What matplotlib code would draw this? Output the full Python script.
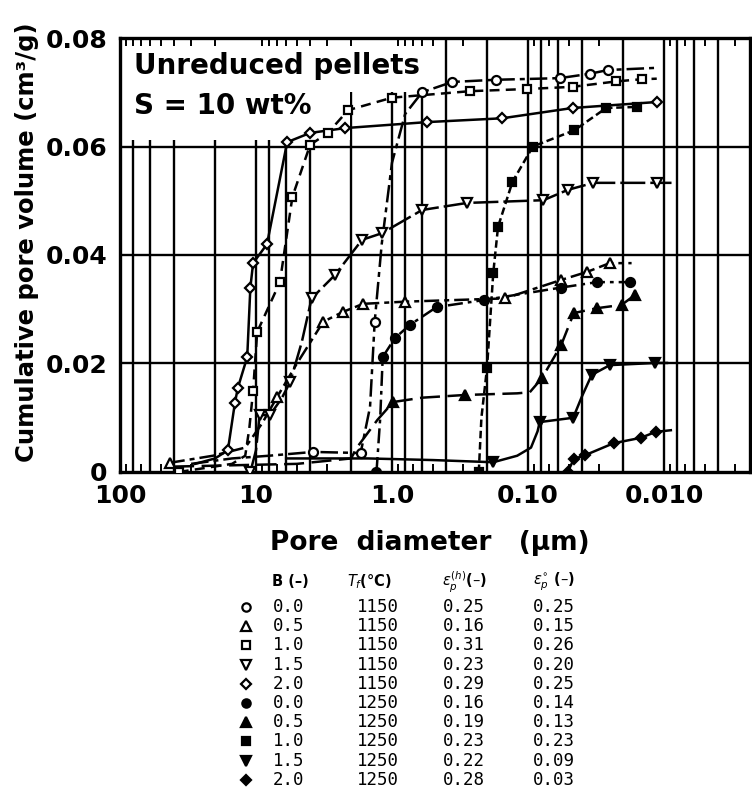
import numpy as np
import matplotlib
matplotlib.use('Agg')
import matplotlib.pyplot as plt
from matplotlib.ticker import LogLocator, NullFormatter
from matplotlib.patches import Rectangle
from matplotlib.lines import Line2D

# ---------------- data (pore diameter in um, cumulative volume cm3/g) ----------------
# T = 1150 C (open symbols)
d_c0 = [30, 15, 8, 3.8, 1.7, 1.45, 1.34, 1.19, 1.0, 0.8, 0.6, 0.36, 0.173, 0.0585, 0.0352, 0.0258, 0.0113]
v_c0 = [0.0015, 0.0025, 0.003, 0.0037, 0.0035, 0.012, 0.0277, 0.042, 0.057, 0.066, 0.070, 0.0719, 0.0723, 0.0726, 0.0734, 0.0741, 0.0745]
m_c0 = [3, 4, 6, 10, 11, 12, 13, 14, 15]

d_t0 = [43, 20.7, 12, 9.0, 7.0, 5.0, 3.2, 2.3, 1.63, 0.8, 0.148, 0.057, 0.0366, 0.0251, 0.0173]
v_t0 = [0.0017, 0.003, 0.0045, 0.009, 0.0138, 0.02, 0.0277, 0.0295, 0.031, 0.0314, 0.032, 0.0354, 0.0369, 0.0385, 0.0385]
m_t0 = [0, 4, 6, 7, 8, 9, 10, 11, 12, 13]

d_s0 = [37, 15, 12, 11.2, 10.5, 9.8, 6.67, 5.4, 4.0, 2.96, 2.1, 1.0, 0.266, 0.101, 0.047, 0.0224, 0.0146, 0.0113]
v_s0 = [0.0, 0.0015, 0.003, 0.008, 0.015, 0.0258, 0.035, 0.0507, 0.0603, 0.0625, 0.0667, 0.069, 0.0702, 0.0706, 0.071, 0.072, 0.0724, 0.0725]
m_s0 = [0, 4, 5, 6, 7, 8, 9, 10, 11, 12, 13, 14, 15, 16]

d_d0 = [11, 10, 9.4, 7.9, 6.5, 5.6, 4.6, 3.9, 2.63, 1.66, 1.19, 0.6, 0.28, 0.077, 0.051, 0.033, 0.0113, 0.0088]
v_d0 = [0.0, 0.004, 0.0105, 0.0105, 0.0135, 0.0166, 0.024, 0.032, 0.0363, 0.0428, 0.044, 0.0483, 0.0496, 0.0501, 0.052, 0.0533, 0.0533, 0.0533]
m_d0 = [0, 2, 3, 5, 7, 8, 9, 10, 11, 12, 13, 14, 15, 16]

d_r0 = [28, 20, 16.1, 14.3, 13.6, 11.6, 11.0, 10.5, 8.3, 5.9, 4.0, 2.2, 0.55, 0.155, 0.047, 0.0113]
v_r0 = [0.0015, 0.0025, 0.004, 0.0127, 0.0155, 0.0212, 0.034, 0.0385, 0.042, 0.0608, 0.0625, 0.0634, 0.0645, 0.0652, 0.0671, 0.0682]
m_r0 = [2, 3, 4, 5, 6, 7, 8, 9, 10, 11, 12, 13, 14, 15]

# T = 1250 C (filled symbols)
d_c1 = [1.3, 1.22, 1.17, 0.95, 0.74, 0.47, 0.21, 0.057, 0.031, 0.0178, 0.016]
v_c1 = [0.0, 0.01, 0.0212, 0.0247, 0.0271, 0.0304, 0.0317, 0.034, 0.035, 0.035, 0.0352]
m_c1 = [0, 2, 3, 4, 5, 6, 7, 8, 9]

d_t1 = [40, 5, 2.0, 1.8, 1.28, 0.98, 0.6, 0.29, 0.12, 0.097, 0.079, 0.057, 0.046, 0.031, 0.0205, 0.0164, 0.015]
v_t1 = [0.001, 0.0015, 0.0025, 0.0046, 0.0096, 0.0129, 0.0137, 0.0142, 0.0145, 0.0147, 0.0173, 0.0234, 0.0293, 0.0302, 0.0308, 0.0326, 0.0328]
m_t1 = [5, 7, 10, 11, 12, 13, 14, 15]

d_s1 = [0.23, 0.22, 0.2, 0.18, 0.166, 0.13, 0.092, 0.0455, 0.0266, 0.0157]
v_s1 = [0.0, 0.01, 0.0192, 0.0367, 0.0452, 0.0535, 0.060, 0.063, 0.0671, 0.0673]
m_s1 = [0, 2, 3, 4, 5, 6, 7, 8, 9]

d_d1 = [6, 1.5, 0.5, 0.18, 0.12, 0.095, 0.085, 0.082, 0.0465, 0.04, 0.034, 0.025, 0.0116, 0.0095]
v_d1 = [0.0025, 0.0025, 0.0022, 0.0018, 0.003, 0.0045, 0.0075, 0.0092, 0.010, 0.014, 0.0179, 0.0197, 0.0201, 0.0201]
m_d1 = [3, 7, 8, 10, 11, 12]

d_r1 = [0.051, 0.046, 0.038, 0.0235, 0.0148, 0.0115, 0.0089]
v_r1 = [0.0, 0.0024, 0.0031, 0.0053, 0.0063, 0.0074, 0.0077]
m_r1 = [0, 1, 2, 3, 4, 5]

# table values
B_vals = ['0.0', '0.5', '1.0', '1.5', '2.0', '0.0', '0.5', '1.0', '1.5', '2.0']
Tf_vals = ['1150'] * 5 + ['1250'] * 5
eps_h = ['0.25', '0.16', '0.31', '0.23', '0.29', '0.16', '0.19', '0.23', '0.22', '0.28']
eps_0 = ['0.25', '0.15', '0.26', '0.20', '0.25', '0.14', '0.13', '0.23', '0.09', '0.03']

x_ticks = [100, 10, 1.0, 0.1, 0.01]
x_ticklabels = ['100', '10', '1.0', '0.10', '0.010']
y_ticks = [0, 0.02, 0.04, 0.06, 0.08]
y_ticklabels = ['0', '0.02', '0.04', '0.06', '0.08']

# ---------------- styles ----------------
series = [
    (d_c0, v_c0, m_c0, 'o', False, (0, (7, 2, 2, 2))),
    (d_t0, v_t0, m_t0, '^', False, (0, (6, 2, 2, 2))),
    (d_s0, v_s0, m_s0, 's', False, (0, (4, 2.5))),
    (d_d0, v_d0, m_d0, 'v', False, (0, (10, 2))),
    (d_r0, v_r0, m_r0, 'D', False, '-'),
    (d_c1, v_c1, m_c1, 'o', True, (0, (6, 2, 1.5, 2))),
    (d_t1, v_t1, m_t1, '^', True, (0, (8, 3))),
    (d_s1, v_s1, m_s1, 's', True, (0, (3, 1.5))),
    (d_d1, v_d1, m_d1, 'v', True, '-'),
    (d_r1, v_r1, m_r1, 'D', True, '-'),
]
msize = {'o': 6.5, '^': 7, 's': 6, 'v': 7, 'D': 5.5}

W, H = 752, 792
fig = plt.figure(figsize=(W / 100, H / 100), dpi=100)
fig.patch.set_facecolor('white')


def fx(px):
    return px / W


def fy(py):
    return 1 - py / H


ax = fig.add_axes([fx(120), fy(472), fx(750) - fx(120), fy(38) - fy(472)])
ax.set_xscale('log')
ax.set_xlim(100, 0.00233)
ax.set_ylim(0, 0.08)
ax.set_axisbelow(False)

# grid (semi-log paper style: 1, 2, 4, 6, 8 of each decade)
for e in range(-3, 2):
    for m in [1, 2, 4, 6, 8]:
        xv = m * 10.0 ** e
        if 0.00233 < xv < 100:
            ax.axvline(xv, color='black', lw=1.7, zorder=1)
for yv in [0.02, 0.04, 0.06]:
    ax.axhline(yv, color='black', lw=1.7, zorder=1)

# white area behind the title text
ax.add_patch(Rectangle((fx(121), fy(140)), fx(350) - fx(121), fy(39) - fy(140),
                       transform=fig.transFigure, facecolor='white', edgecolor='none', zorder=1.2))
ax.add_patch(Rectangle((fx(350), fy(92)), fx(440) - fx(350), fy(39) - fy(92),
                       transform=fig.transFigure, facecolor='white', edgecolor='none', zorder=1.2))

for d, v, mk, marker, filled, ls in series:
    ax.plot(d, v, color='black', lw=1.8, ls=ls, zorder=3)
    ax.plot(np.array(d)[mk], np.array(v)[mk], ls='none', marker=marker,
            markersize=msize[marker], markeredgewidth=1.6, markeredgecolor='black',
            markerfacecolor='black' if filled else 'white', zorder=4)

ax.set_xticks(x_ticks)
ax.set_xticklabels(x_ticklabels)
ax.set_yticks(y_ticks)
ax.set_yticklabels(y_ticklabels)
ax.xaxis.set_minor_locator(LogLocator(base=10, subs=np.arange(2, 10)))
ax.xaxis.set_minor_formatter(NullFormatter())
ax.tick_params(axis='both', which='major', length=0, labelsize=18)
ax.tick_params(axis='x', which='major', pad=9)
ax.tick_params(axis='y', which='major', pad=9)
ax.tick_params(axis='x', which='minor', direction='in', top=True, bottom=True,
               length=6, width=1.4)
for lbl in ax.get_xticklabels() + ax.get_yticklabels():
    lbl.set_fontweight('bold')
for sp in ax.spines.values():
    sp.set_linewidth(2.4)

fig.text(fx(27), fy(242), 'Cumulative pore volume (cm³/g)', rotation=90,
         ha='center', va='center', fontsize=17.5, fontweight='bold')
fig.text(fx(430), fy(543), 'Pore  diameter   (μm)', ha='center', va='center',
         fontsize=19, fontweight='bold')

fig.text(fx(134), fy(66), 'Unreduced pellets', ha='left', va='center',
         fontsize=20, fontweight='bold')
fig.text(fx(134), fy(106), 'S = 10 wt%', ha='left', va='center',
         fontsize=20, fontweight='bold')

# ---------------- table below ----------------
hy = 582
fig.text(fx(272), fy(hy), 'B (–)', ha='left', va='center', fontsize=10.5, fontweight='bold')
fig.text(fx(347), fy(hy), r'$T_f$(°C)', ha='left', va='center', fontsize=10.5, fontweight='bold')
fig.text(fx(442), fy(hy), r'$\varepsilon_p^{(h)}$(–)', ha='left', va='center', fontsize=10.5, fontweight='bold')
fig.text(fx(533), fy(hy), r'$\varepsilon_p^{\circ}$ (–)', ha='left', va='center', fontsize=10.5, fontweight='bold')

for i, (d, v, mk, marker, filled, ls) in enumerate(series):
    ry = 607 + 19.2 * i
    fig.add_artist(Line2D([fx(246)], [fy(ry)], transform=fig.transFigure, ls='none',
                          marker=marker, markersize=msize[marker] - 0.5, markeredgewidth=1.6,
                          markeredgecolor='black',
                          markerfacecolor='black' if filled else 'white'))
    for xp, txt in [(273, B_vals[i]), (357, Tf_vals[i]), (443, eps_h[i]), (533, eps_0[i])]:
        fig.text(fx(xp), fy(ry), txt, ha='left', va='center', fontsize=12.5,
                 family='DejaVu Sans Mono')

fig.savefig('out.png', dpi=100, facecolor='white')
